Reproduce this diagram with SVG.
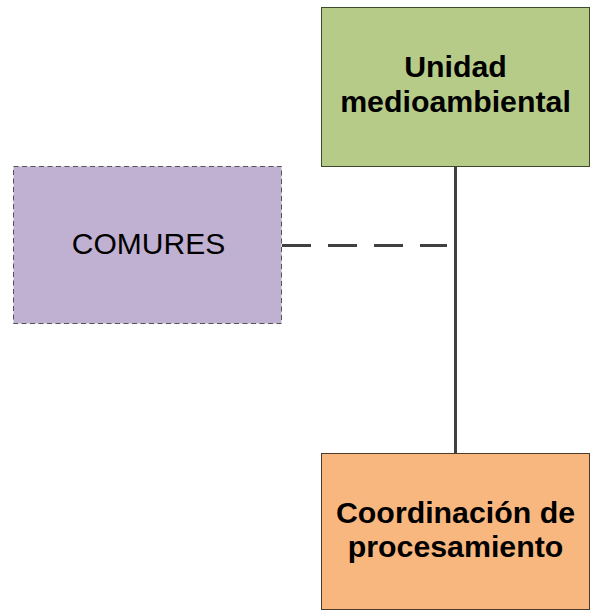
<svg xmlns="http://www.w3.org/2000/svg" width="597" height="614" viewBox="0 0 597 614">
<style>
.box{stroke-width:1}
.t{font-family:"Liberation Sans",Arial,sans-serif;fill:#000;text-anchor:middle}
.b{font-weight:bold;font-size:30.3px}
.r{font-size:30px}
.conn{stroke:#404040;stroke-width:3;fill:none}
</style>
<rect width="597" height="614" fill="#ffffff"/>
<g id="connectors">
<line class="conn" x1="455.5" y1="166" x2="455.5" y2="453"/>
<line class="conn" x1="282" y1="245.5" x2="447" y2="245.5" stroke-dasharray="29 17"/>
</g>
<g id="node-unidad">
<rect class="box" x="321.5" y="7.5" width="268" height="159" fill="#B7CB88" stroke="#3d4a2a"/>
<text class="t b" x="455.5" y="77">Unidad</text>
<text class="t b" x="455.5" y="112">medioambiental</text>
</g>
<g id="node-comures">
<rect class="box" x="13.5" y="166.5" width="268" height="157" fill="#C0B0D2" stroke="#555555" stroke-dasharray="5 3.5"/>
<text class="t r" x="148.5" y="253.5">COMURES</text>
</g>
<g id="node-coordinacion">
<rect class="box" x="321.5" y="453.5" width="268" height="156" fill="#F8B77F" stroke="#4a3a2a"/>
<text class="t b" x="455.5" y="523">Coordinación de</text>
<text class="t b" x="455.5" y="557">procesamiento</text>
</g>
</svg>
